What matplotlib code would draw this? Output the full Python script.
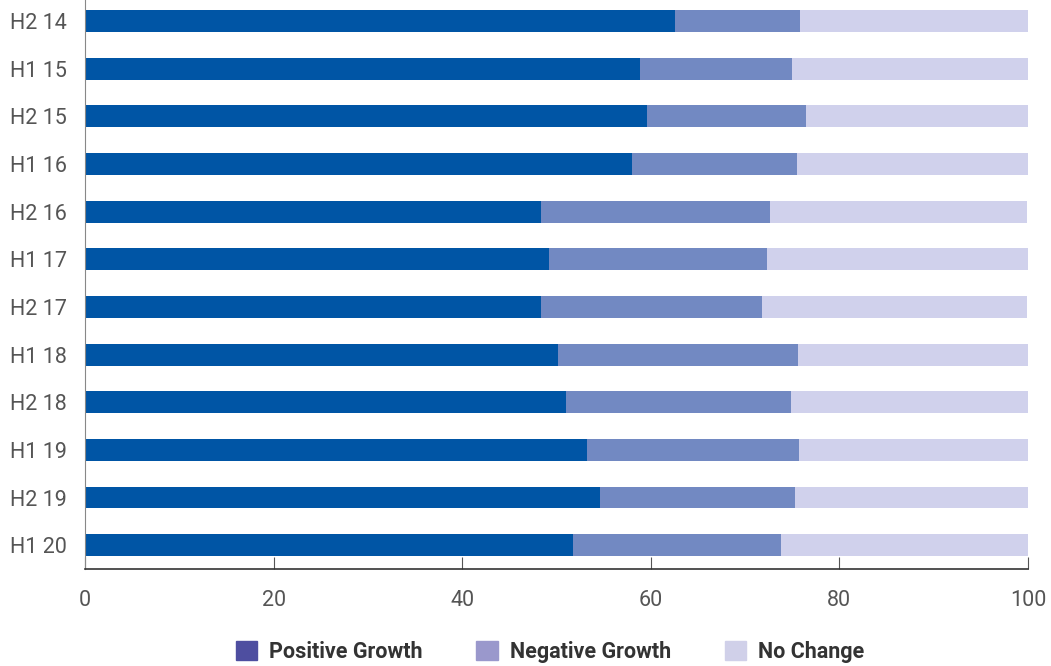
import matplotlib.pyplot as plt
from matplotlib.patches import Patch

plt.rcParams['font.family'] = ['Roboto', 'DejaVu Sans']

periods = ["H2 14", "H1 15", "H2 15", "H1 16", "H2 16", "H1 17",
           "H2 17", "H1 18", "H2 18", "H1 19", "H2 19", "H1 20"]
positive = [62.6, 58.9, 59.6, 58.0, 48.4, 49.2, 48.4, 50.2, 51.0, 53.2, 54.6, 51.7]
negative = [13.2, 16.1, 16.9, 17.5, 24.2, 23.1, 23.4, 25.4, 23.9, 22.5, 20.7, 22.1]
no_change = [24.2, 25.0, 23.5, 24.5, 27.3, 27.7, 28.1, 24.4, 25.2, 24.3, 24.7, 26.2]

bar_colors = ["#0055a5", "#7289c2", "#d0d1ec"]
legend_colors = ["#4e4ea0", "#9a98cc", "#d0d0e9"]
labels = ["Positive Growth", "Negative Growth", "No Change"]

fig = plt.figure(figsize=(10.51, 6.66), dpi=100)
ax = fig.add_axes([85 / 1051, 1 - 569 / 666, 943 / 1051, 569 / 666])

y = list(range(len(periods)))
left2 = [p + n for p, n in zip(positive, negative)]
ax.barh(y, positive, height=0.46, color=bar_colors[0])
ax.barh(y, negative, left=positive, height=0.46, color=bar_colors[1])
ax.barh(y, no_change, left=left2, height=0.46, color=bar_colors[2])

ax.set_ylim(11.5, -0.44)
ax.set_xlim(0, 100)
ax.set_xticks([0, 20, 40, 60, 80, 100])
ax.set_yticks(y)
ax.set_yticklabels(periods)

for s in ["top", "right"]:
    ax.spines[s].set_visible(False)
ax.spines["left"].set_color("#888888")
ax.spines["bottom"].set_color("#333333")
ax.spines["bottom"].set_linewidth(1.2)
ax.tick_params(axis="x", direction="in", length=9, color="#555555",
               labelsize=15.5, labelcolor="#555555", pad=15)
ax.tick_params(axis="y", length=0, labelsize=15.5, labelcolor="#555555", pad=13)

handles = [Patch(color=c) for c in legend_colors]
fig.legend(handles, labels, loc="center", bbox_to_anchor=(550 / 1051, 14 / 666),
           ncol=3, frameon=False, handlelength=1.0, handleheight=1.0,
           handletextpad=0.55, columnspacing=2.5, borderpad=0,
           prop={"size": 15.5, "weight": "bold"}, labelcolor="#333333")

plt.savefig("out.png", dpi=100)
